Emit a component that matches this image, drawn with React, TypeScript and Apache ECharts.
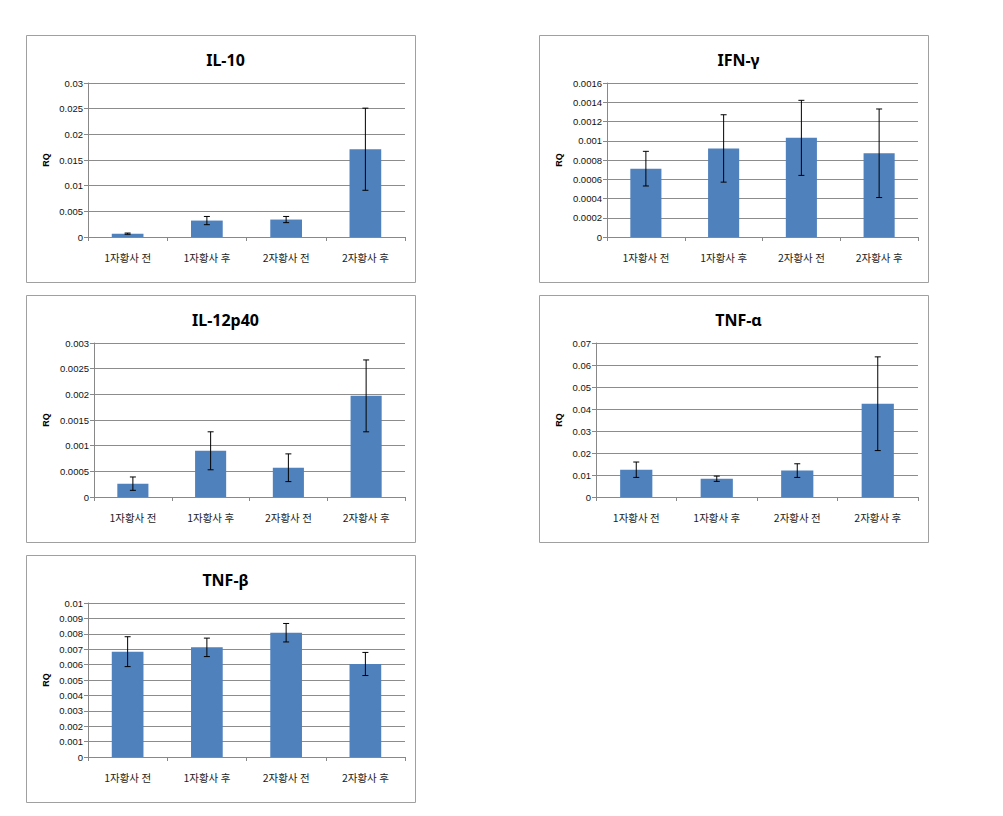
import React, { useEffect, useRef } from "react";
import * as echarts from "echarts";

const categories = ["1자황사 전", "1자황사 후", "2자황사 전", "2자황사 후"];

const il10Values = [0.00065, 0.0032, 0.0034, 0.0171];
const il10Errors = [0.00012, 0.0008, 0.0006, 0.008];

const ifnValues = [0.00071, 0.00092, 0.00103, 0.00087];
const ifnErrors = [0.00018, 0.00035, 0.00039, 0.00046];

const il12Values = [0.00026, 0.0009, 0.00057, 0.00197];
const il12Errors = [0.00013, 0.00037, 0.00027, 0.0007];

const tnfaValues = [0.0124, 0.0083, 0.012, 0.0424];
const tnfaErrors = [0.0035, 0.0012, 0.0031, 0.0213];

const tnfbValues = [0.00684, 0.00712, 0.00807, 0.00604];
const tnfbErrors = [0.00097, 0.0006, 0.0006, 0.00075];

const panels = [
  { title: "IL-10", values: il10Values, errors: il10Errors, max: 0.03, interval: 0.005, box: [26, 35], gridLeft: 88 },
  { title: "IFN-γ", values: ifnValues, errors: ifnErrors, max: 0.0016, interval: 0.0002, box: [539, 35], gridLeft: 607 },
  { title: "IL-12p40", values: il12Values, errors: il12Errors, max: 0.003, interval: 0.0005, box: [26, 295], gridLeft: 94 },
  { title: "TNF-α", values: tnfaValues, errors: tnfaErrors, max: 0.07, interval: 0.01, box: [539, 295], gridLeft: 596 },
  { title: "TNF-β", values: tnfbValues, errors: tnfbErrors, max: 0.01, interval: 0.001, box: [26, 555], gridLeft: 88 },
];

const BOX_W = 389;
const BOX_H = 247;
const BAR_COLOR = "#4F81BD";
const AXIS_COLOR = "#888888";

export default function App() {
  const ref = useRef<HTMLDivElement>(null);

  useEffect(() => {
    if (!ref.current) return;
    const chart = echarts.init(ref.current, undefined, { renderer: "svg" });

    const titles: any[] = [];
    const grids: any[] = [];
    const xAxes: any[] = [];
    const yAxes: any[] = [];
    const series: any[] = [];
    const graphics: any[] = [];

    panels.forEach((p, i) => {
      const [bx, by] = p.box;
      const gridRight = bx + 379;
      const gridTop = by + 48;
      const gridBottom = by + 202;
      graphics.push({
        type: "rect",
        shape: { x: bx + 0.5, y: by + 0.5, width: BOX_W, height: BOX_H },
        style: { fill: "none", stroke: "#a0a0a0", lineWidth: 1 },
        silent: true,
      });
      titles.push({
        text: p.title,
        left: bx + BOX_W / 2,
        top: by + 12,
        textAlign: "center",
        textStyle: { fontFamily: "Noto Sans", fontWeight: "bold", fontSize: 16, color: "#000" },
      });
      grids.push({
        left: p.gridLeft,
        top: gridTop,
        width: gridRight - p.gridLeft,
        height: gridBottom - gridTop,
      });
      xAxes.push({
        type: "category",
        gridIndex: i,
        data: categories,
        boundaryGap: true,
        axisLine: { show: true, lineStyle: { color: AXIS_COLOR, width: 1 } },
        axisTick: { show: true, length: 4, alignWithLabel: false, lineStyle: { color: AXIS_COLOR } },
        axisLabel: {
          margin: 15,
          fontSize: 10.5,
          color: "#222",
          fontFamily: "Noto Sans CJK KR",
        },
        splitLine: { show: false },
      });
      yAxes.push({
        type: "value",
        gridIndex: i,
        min: 0,
        max: p.max,
        interval: p.interval,
        name: "RQ",
        nameLocation: "middle",
        nameGap: p.gridLeft - bx - 24,
        nameTextStyle: { fontSize: 9, fontWeight: "bold", color: "#000", fontFamily: "Liberation Sans" },
        axisLine: { show: true, lineStyle: { color: AXIS_COLOR, width: 1 } },
        axisTick: { show: true, length: 4, lineStyle: { color: AXIS_COLOR } },
        axisLabel: {
          margin: 5,
          fontSize: 9.5,
          color: "#111",
          fontFamily: "Liberation Sans",
          formatter: (v: number) => String(parseFloat(v.toPrecision(6))),
        },
        splitLine: { show: true, lineStyle: { color: "#8c8c8c", width: 1 } },
      });
      series.push({
        type: "bar",
        xAxisIndex: i,
        yAxisIndex: i,
        data: p.values,
        barWidth: "40%",
        itemStyle: { color: BAR_COLOR },
        silent: true,
      });
      series.push({
        type: "custom",
        xAxisIndex: i,
        yAxisIndex: i,
        silent: true,
        z: 5,
        data: p.values.map((v, k) => [k, v - p.errors[k], v + p.errors[k]]),
        renderItem: (params: any, api: any) => {
          const x = api.value(0);
          const lo = api.coord([x, api.value(1)]);
          const hi = api.coord([x, api.value(2)]);
          const w = 3;
          const style = { stroke: "#000", lineWidth: 1 };
          return {
            type: "group",
            children: [
              { type: "line", shape: { x1: hi[0], y1: hi[1], x2: lo[0], y2: lo[1] }, style },
              { type: "line", shape: { x1: hi[0] - w, y1: hi[1], x2: hi[0] + w, y2: hi[1] }, style },
              { type: "line", shape: { x1: lo[0] - w, y1: lo[1], x2: lo[0] + w, y2: lo[1] }, style },
            ],
          };
        },
      });
    });

    chart.setOption({
      animation: false,
      backgroundColor: "#ffffff",
      title: titles,
      grid: grids,
      xAxis: xAxes,
      yAxis: yAxes,
      series,
      graphic: graphics,
    });

    return () => chart.dispose();
  }, []);

  return (
    <div
      ref={ref}
      style={{ position: "absolute", left: 0, top: 0, width: 1003, height: 816, background: "#fff" }}
    />
  );
}
